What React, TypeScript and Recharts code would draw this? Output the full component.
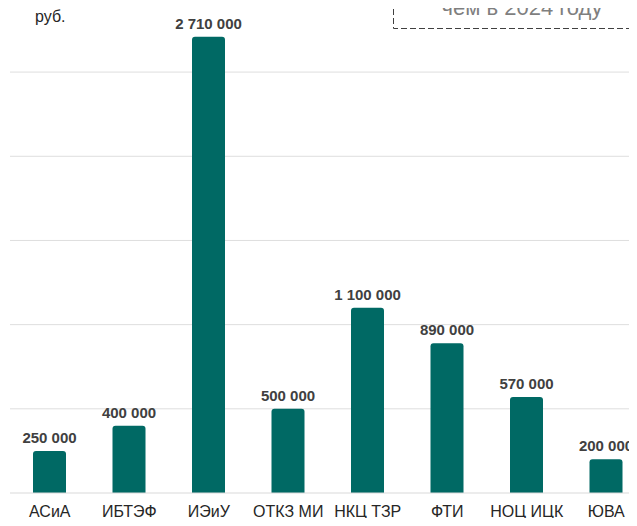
import { BarChart, Bar, XAxis, YAxis, CartesianGrid, LabelList } from 'recharts'

const CATEGORIES = ['АСиА', 'ИБТЭФ', 'ИЭиУ', 'ОТКЗ МИ', 'НКЦ ТЗР', 'ФТИ', 'НОЦ ИЦК', 'ЮВА']
const AMOUNTS = [250000, 400000, 2710000, 500000, 1100000, 890000, 570000, 200000]
const GRID_TICKS = [500000, 1000000, 1500000, 2000000, 2500000]
const Y_MAX = 2750000

const BAR_COLOR = '#006964'
const FONT = '"Liberation Sans", Arial, sans-serif'

const data = CATEGORIES.map((name, i) => ({ name, value: AMOUNTS[i] }))

const fmt = (v: number) => String(v).replace(/\B(?=(\d{3})+(?!\d))/g, ' ')

function ValueLabel(props: any) {
  const { x, y, width, value } = props
  return (
    <text
      x={x + width / 2}
      y={y - 8}
      textAnchor="middle"
      fontSize={15}
      fontWeight={700}
      fill="#404040"
      fontFamily={FONT}
    >
      {fmt(value)}
    </text>
  )
}

function CategoryTick({ x, y, payload }: any) {
  return (
    <text x={x} y={y} dy={16} textAnchor="middle" fontSize={16} fill="#262626" fontFamily={FONT}>
      {payload.value}
    </text>
  )
}

// grid rows at 500k steps, below the top of the value domain
const gridRows = ({ offset }: any) =>
  GRID_TICKS.map((t) => offset.top + offset.height * (1 - t / Y_MAX))

export default function App() {
  return (
    <div style={{ margin: -8, width: 637, height: 526, overflow: 'hidden', position: 'relative', background: '#fff', fontFamily: FONT }}>
      <div style={{ position: 'absolute', left: 35, top: 8, fontSize: 16, color: '#262626' }}>руб.</div>
      <svg width={637} height={40} style={{ position: 'absolute', left: 0, top: 0 }}>
        <path d="M393.5 0 V28.5 H637" fill="none" stroke="#404040" strokeWidth={1} strokeDasharray="6 3" />
        <text x={522} y={15} textAnchor="middle" fontSize={22} fill="#7f7f7f" fontFamily={FONT}>
          чем в 2024 году
        </text>
      </svg>
      <BarChart
        width={646}
        height={526}
        data={data}
        margin={{ top: 30, right: 0, left: 10, bottom: 0 }}
        style={{ position: 'absolute', left: 0, top: 0 }}
      >
        <CartesianGrid vertical={false} stroke="#dedede" horizontalCoordinatesGenerator={gridRows} />
        <XAxis
          dataKey="name"
          height={33}
          axisLine={{ stroke: '#d9d9d9' }}
          tickLine={false}
          tick={<CategoryTick />}
          interval={0}
        />
        <YAxis hide domain={[0, Y_MAX]} />
        <Bar dataKey="value" fill={BAR_COLOR} barSize={33} radius={[3, 3, 0, 0]} isAnimationActive={false}>
          <LabelList dataKey="value" content={<ValueLabel />} />
        </Bar>
      </BarChart>
    </div>
  )
}
